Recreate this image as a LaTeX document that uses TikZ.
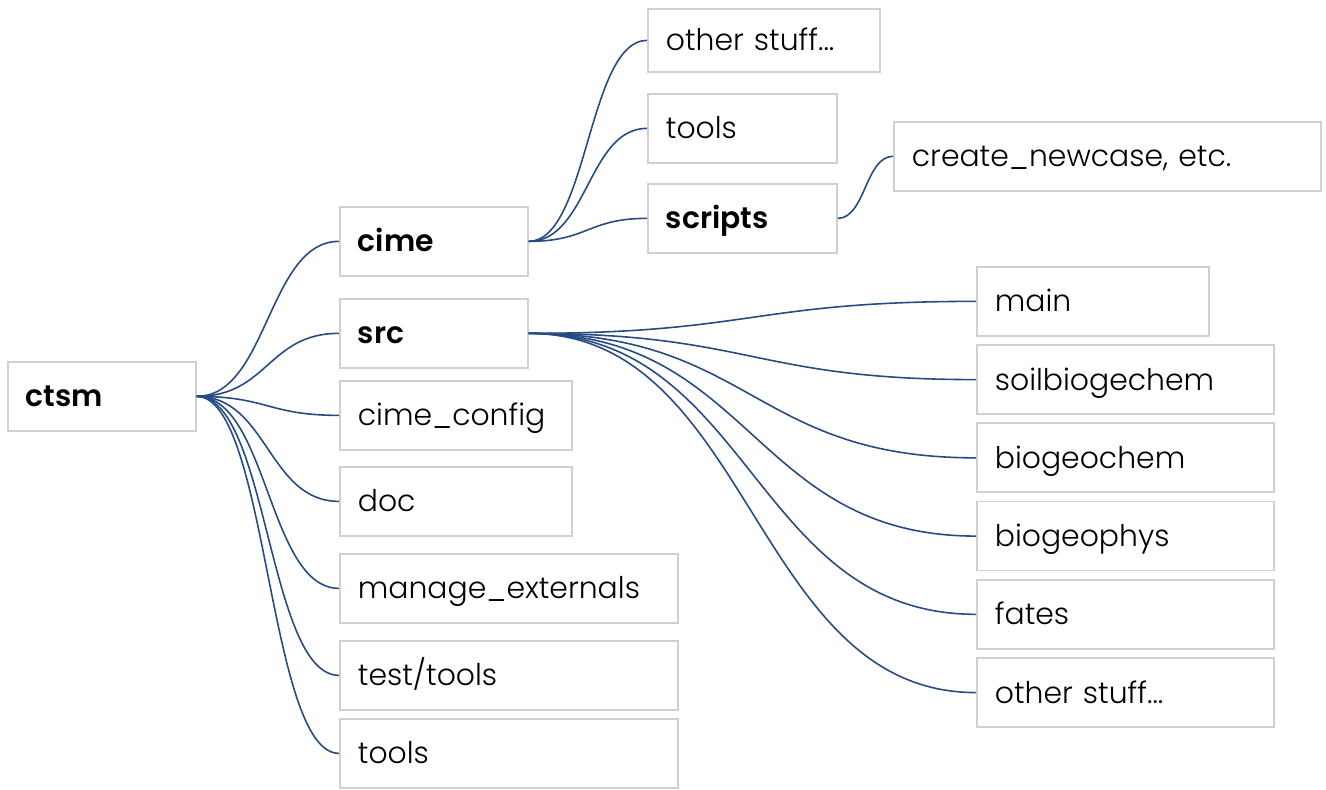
\documentclass[tikz,border=0pt]{standalone}
\usepackage{fontspec}
\setmainfont{Poppins}[UprightFont=* Light, BoldFont=* SemiBold]
\usetikzlibrary{positioning, calc}
\definecolor{linkblue}{RGB}{38,74,130}
\definecolor{boxgray}{RGB}{208,208,208}
\tikzstyle{dir} = [rectangle, draw=boxgray, line width=1pt, anchor=north west, minimum height=1.38cm, inner xsep=0.36cm, text height=14pt, text depth=2pt, align=left, font=\fontsize{17}{20}\selectfont]
\tikzstyle{link} = [draw=linkblue, line width=0.9pt]
\newcommand{\twig}[2]{\draw[link] let \p1=(#1.east), \p2=(#2.west) in (\p1) .. controls ({(\x1+\x2)/2},\y1) and ({(\x1+\x2)/2},\y2) .. (\p2);}

\begin{document}
\begin{tikzpicture}[x=0.02cm, y=-0.02cm]
\useasboundingbox (0,0) rectangle (1326,790);

\node (ctsm) [dir, text width=3.04cm] at (7,361) {\textbf{ctsm}};

\node (cime) [dir, text width=3.04cm] at (339,206) {\textbf{cime}};
\node (src) [dir, text width=3.04cm] at (339,298) {\textbf{src}};
\node (cfg) [dir, text width=3.92cm] at (339,380) {cime\_config};
\node (doc) [dir, text width=3.92cm] at (339,466) {doc};
\node (mext) [dir, text width=6.04cm] at (339,553) {manage\_externals};
\node (ttools) [dir, text width=6.04cm] at (339,640) {test/tools};
\node (tools) [dir, text width=6.04cm] at (339,718) {tools};

\node (cstuff) [dir, text width=3.92cm, minimum height=1.26cm] at (647,8) {other stuff...};
\node (ctools) [dir, text width=3.06cm] at (647,93) {tools};
\node (scripts) [dir, text width=3.06cm] at (647,183) {\textbf{scripts}};
\node (newcase) [dir, text width=7.82cm] at (893,121) {create\_newcase, etc.};

\node (main) [dir, text width=3.92cm] at (976,266) {main};
\node (soil) [dir, text width=5.22cm, below=0.15cm of main.south west, anchor=north west] {soilbiogechem};
\node (bgc) [dir, text width=5.22cm, below=0.15cm of soil.south west, anchor=north west] {biogeochem};
\node (bgp) [dir, text width=5.22cm, below=0.15cm of bgc.south west, anchor=north west] {biogeophys};
\node (fates) [dir, text width=5.22cm, below=0.15cm of bgp.south west, anchor=north west] {fates};
\node (sstuff) [dir, text width=5.22cm, below=0.15cm of fates.south west, anchor=north west] {other stuff...};

% links
\foreach \a/\b in {ctsm/cime, ctsm/src, ctsm/cfg, ctsm/doc, ctsm/mext, ctsm/ttools, ctsm/tools,
                   cime/cstuff, cime/ctools, cime/scripts, scripts/newcase,
                   src/main, src/soil, src/bgc, src/bgp, src/fates, src/sstuff}
  \twig{\a}{\b};

\end{tikzpicture}
\end{document}
